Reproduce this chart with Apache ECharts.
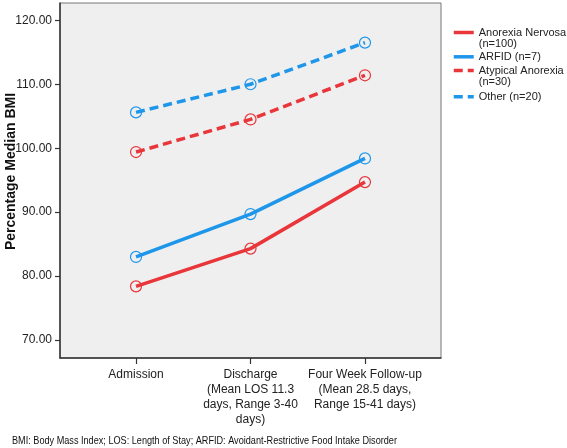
<!DOCTYPE html>
<html><head><meta charset="utf-8">
<script src="https://cdn.jsdelivr.net/npm/echarts@6/dist/echarts.min.js"></script>
<style>html,body{margin:0;padding:0;background:#fff}#c{width:567px;height:448px}</style>
</head><body><div id="c"></div>
<script>
const categories = ['Admission', 'Discharge\n(Mean LOS 11.3\ndays, Range 3-40\ndays)', 'Four Week Follow-up\n(Mean 28.5 days,\nRange 15-41 days)'];
const anorexiaNervosa = [78.4, 84.3, 94.7];
const arfid = [83.0, 89.7, 98.4];
const atypicalAnorexia = [99.4, 104.5, 111.4];
const other = [105.6, 110.0, 116.5];
const yTicks = [70, 80, 90, 100, 110, 120];
const seriesNames = ['Anorexia Nervosa\n(n=100)', 'ARFID (n=7)', 'Atypical Anorexia\n(n=30)', 'Other (n=20)'];
const footnote = 'BMI: Body Mass Index; LOS: Length of Stay; ARFID: Avoidant-Restrictive Food Intake Disorder';

const RED = '#e8363b', BLUE = '#1e96ea';
const xIdx = categories.map((_, i) => i);
function mk(name, vals, color, dashed) {
  return {
    name, type: 'line', data: vals.map((v, i) => [i, v]),
    symbol: 'circle', symbolSize: 11,
    itemStyle: { color: 'rgba(0,0,0,0)', borderColor: color, borderWidth: 1.2 },
    lineStyle: { color, width: 3.5, type: dashed ? [9, 5] : 'solid' },
    emphasis: { disabled: true }, z: 3
  };
}
const legendIconY = [33, 57, 71, 97];
const chart = echarts.init(document.getElementById('c'), null, { renderer: 'canvas' });
chart.setOption({
  animation: false,
  textStyle: { fontFamily: 'Liberation Sans, Arial, sans-serif' },
  grid: { left: 60, top: 3, right: 126, bottom: 90, show: true, backgroundColor: '#efefef', borderColor: '#777', borderWidth: 1, outerBoundsMode: 'none', containLabel: false },
  xAxis: {
    type: 'value', min: -0.664, max: 2.664,
    axisLine: { onZero: false, lineStyle: { color: '#333', width: 1.5 } },
    axisTick: { show: true, customValues: xIdx, length: 6, lineStyle: { color: '#333', width: 1.2 } },
    axisLabel: { customValues: xIdx, formatter: v => categories[Math.round(v)], color: '#222', fontSize: 12, lineHeight: 15, margin: 9, align: 'center', verticalAlign: 'top' },
    splitLine: { show: false }
  },
  yAxis: {
    type: 'value', min: 67.2, max: 122.7,
    name: 'Percentage Median BMI', nameLocation: 'middle', nameGap: 42, nameMoveOverlap: false,
    nameTextStyle: { fontSize: 14, fontWeight: 'bold', color: '#111', padding: [0, 0, 0, 18] },
    axisLine: { show: true, onZero: false, lineStyle: { color: '#333', width: 1.5 } },
    axisTick: { show: true, customValues: yTicks, length: 5, lineStyle: { color: '#333', width: 1.2 } },
    axisLabel: { customValues: yTicks, formatter: v => v.toFixed(2), color: '#222', fontSize: 12, margin: 8 },
    splitLine: { show: false }
  },
  legend: seriesNames.map((n, i) => {
    const two = n.includes('\n');
    return {
      data: [n], orient: 'vertical', left: 452, padding: 0,
      top: two ? legendIconY[i] - 17 : legendIconY[i] - 6,
      itemWidth: 20, itemHeight: 12,
      formatter: name => (name.includes('\n') ? '\n' + name : name),
      itemStyle: { opacity: 0 }, lineStyle: { width: 3.5 }, selectedMode: false,
      textStyle: { fontSize: 11, color: '#222', lineHeight: 11 }
    };
  }),
  graphic: [{
    type: 'text', left: 12, top: 435, scaleX: 0.83,
    style: { text: footnote, fontSize: 11, fill: '#111', fontFamily: 'Liberation Sans, Arial, sans-serif' }
  }],
  series: [
    mk(seriesNames[0], anorexiaNervosa, RED, false),
    mk(seriesNames[1], arfid, BLUE, false),
    mk(seriesNames[2], atypicalAnorexia, RED, true),
    mk(seriesNames[3], other, BLUE, true)
  ]
});
</script></body></html>
